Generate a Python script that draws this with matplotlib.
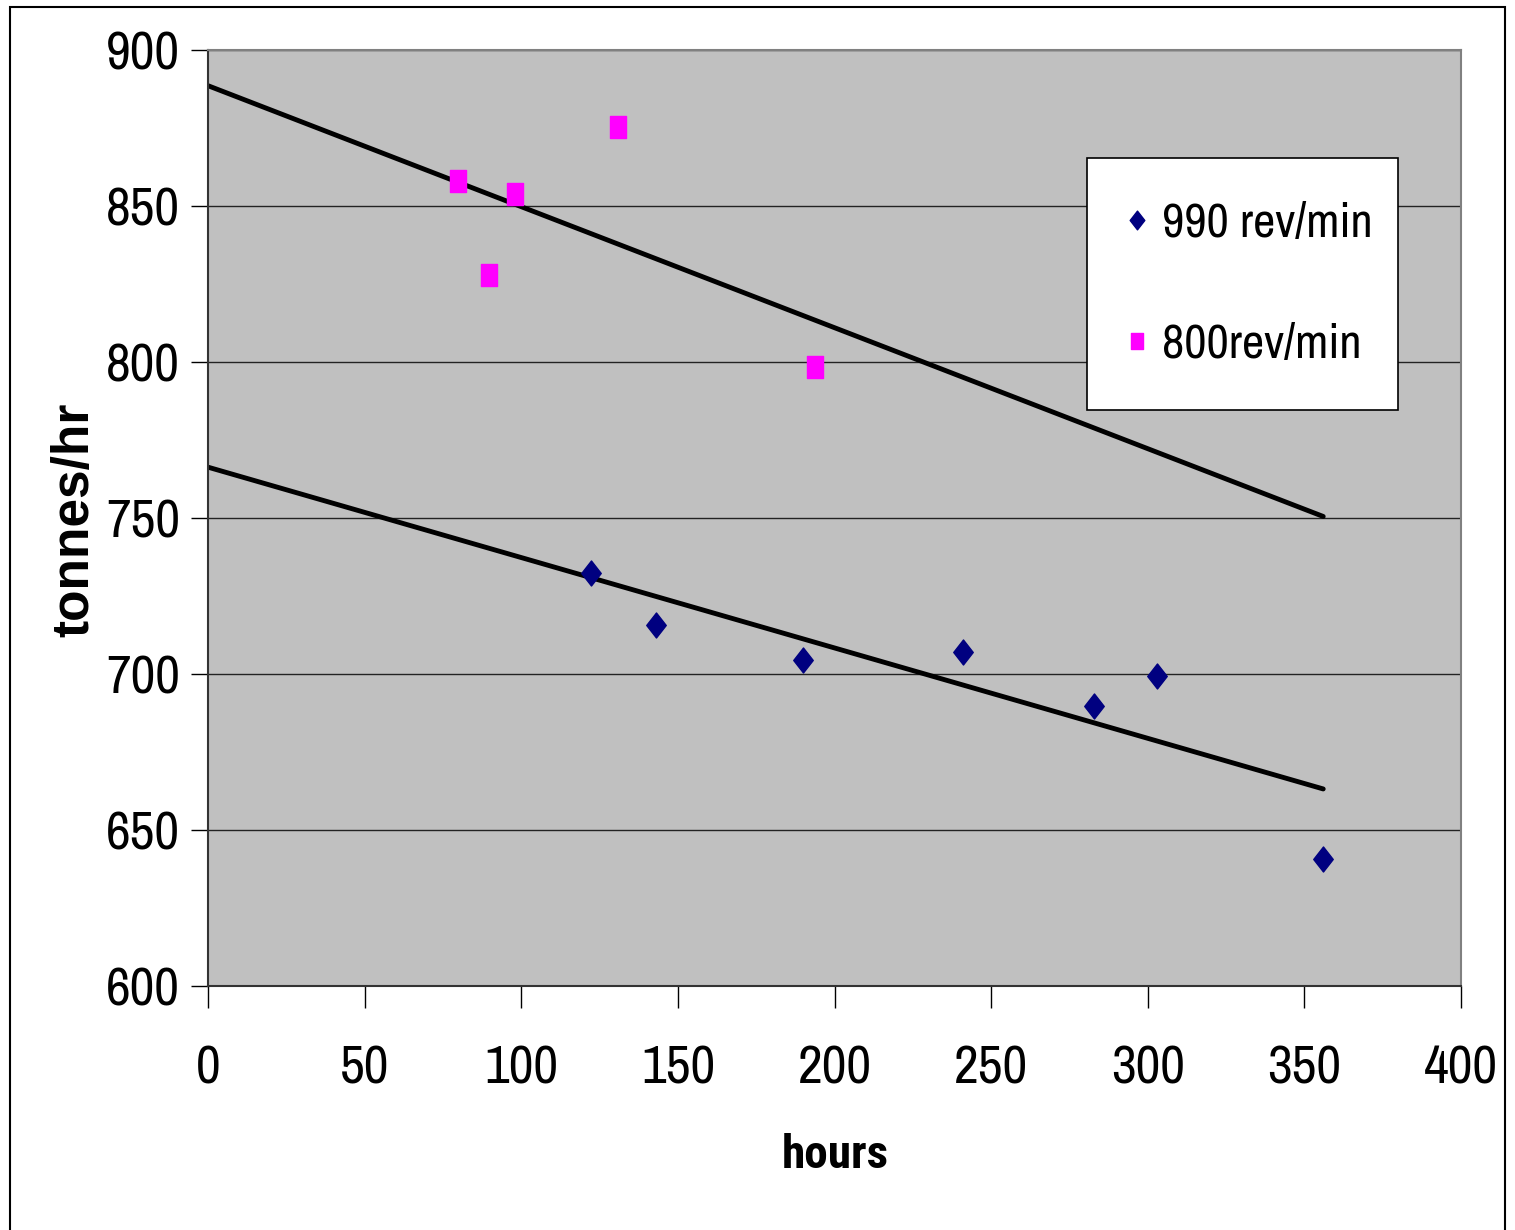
import matplotlib
matplotlib.use("Agg")
import matplotlib.pyplot as plt
import numpy as np
from matplotlib.patches import Rectangle
from matplotlib.path import Path

# data
hours_990 = [122.2, 142.9, 190.0, 241.0, 282.9, 303.0, 356.0]
tph_990 = [732.3, 715.8, 704.5, 707.1, 689.8, 699.4, 640.6]
hours_800 = [79.9, 89.6, 98.0, 131.0, 193.7]
tph_800 = [858.0, 827.8, 853.8, 875.3, 798.3]
trend_range = [0, 356]  # linear trendlines drawn over this span

x_ticks = [0, 50, 100, 150, 200, 250, 300, 350, 400]
y_ticks = [600, 650, 700, 750, 800, 850, 900]

# narrow sans, like Arial Narrow
narrow = ['Liberation Sans Narrow', 'Arimo Narrow', 'Archivo Narrow',
          'PT Sans Narrow', 'Roboto Condensed', 'Liberation Sans', 'DejaVu Sans']
narrow_bold = ['Roboto Condensed', 'PT Sans Narrow', 'Archivo Narrow',
               'Liberation Sans', 'DejaVu Sans']
plt.rcParams['font.family'] = narrow

# Excel-like markers (a bit taller than wide)
diamond = Path([(0, 1), (0.78, 0), (0, -1), (-0.78, 0), (0, 1)],
               [Path.MOVETO, Path.LINETO, Path.LINETO, Path.LINETO, Path.CLOSEPOLY])
rect = Path([(-0.75, -1), (0.75, -1), (0.75, 1), (-0.75, 1), (-0.75, -1)],
            [Path.MOVETO, Path.LINETO, Path.LINETO, Path.LINETO, Path.CLOSEPOLY])

fig = plt.figure(figsize=(15.15, 12.3), dpi=100)
ax = fig.add_axes([0.1373, 0.1984, 0.8271, 0.7609])
ax.set_facecolor("#C0C0C0")

ax.plot(hours_990, tph_990, linestyle="none", marker=diamond, markersize=18,
        color="#000080", label="990 rev/min", zorder=3)
ax.plot(hours_800, tph_800, linestyle="none", marker=rect, markersize=16,
        color="#FF00FF", label="800rev/min", zorder=3)

# linear trendlines
tx = np.array(trend_range, dtype=float)
for xs, ys in [(hours_800, tph_800), (hours_990, tph_990)]:
    m, c = np.polyfit(xs, ys, 1)
    ax.plot(tx, m * tx + c, color="black", linewidth=3.5, solid_capstyle="round", zorder=2)

ax.set_xlim(0, 400)
ax.set_ylim(600, 900)
ax.set_xticks(x_ticks)
ax.set_yticks(y_ticks)
ax.grid(axis="y", color="#222222", linewidth=1.0)
ax.set_axisbelow(True)

ax.tick_params(axis="y", direction="out", length=12, width=1, pad=8, labelsize=39)
ax.tick_params(axis="x", direction="out", length=16, width=1, pad=26, labelsize=39)

for s in ["top", "right"]:
    ax.spines[s].set_color("#808080")
    ax.spines[s].set_linewidth(1.5)
for s in ["left", "bottom"]:
    ax.spines[s].set_color("#333333")
    ax.spines[s].set_linewidth(1.5)

fig.text(0.0495, 0.577, "tonnes/hr", rotation=90, ha="center", va="center",
         fontsize=37, fontweight="bold", family=["Liberation Sans", "DejaVu Sans"])
fig.text(0.551, 0.061, "hours", ha="center", va="center",
         fontsize=34, fontweight="bold", family=narrow_bold)

leg = ax.legend(loc="upper left", bbox_to_anchor=(0.7015, 0.5, 0.2482, 0.3846),
                mode="expand", fontsize=35, frameon=True, fancybox=False,
                edgecolor="black", facecolor="white", framealpha=1,
                labelspacing=1.6, handletextpad=0.39, borderpad=0.91,
                handlelength=0.24, markerscale=0.75, borderaxespad=0)
leg.get_frame().set_linewidth(1.2)

# outer chart border
fig.patches.append(Rectangle((0.0066, -0.05), 0.9868, 1.0443, transform=fig.transFigure,
                             fill=False, edgecolor="black", linewidth=1.5))

fig.savefig("out.png", dpi=100)
